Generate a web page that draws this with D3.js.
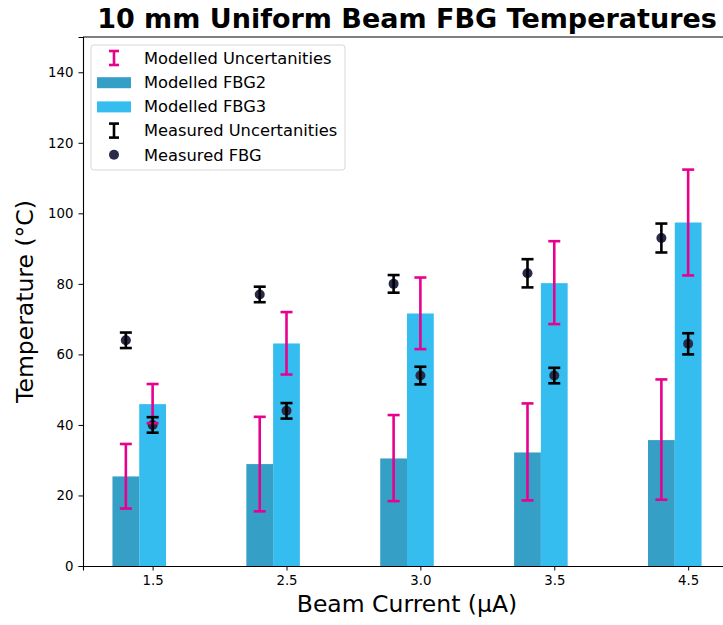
<!DOCTYPE html>
<html>
<head>
<meta charset="utf-8">
<script src="https://cdn.jsdelivr.net/npm/d3@7"></script>
<style>
  body { margin: 0; background: #fff; }
  text { font-family: "DejaVu Sans", sans-serif; }
</style>
</head>
<body>
<svg id="chart" width="723" height="625"></svg>
<script>
// Beam current categories
const currents = ["1.5", "2.5", "3.0", "3.5", "4.5"];

// Modelled temperatures (bars) and their uncertainty ranges
const modelledFBG2 = [25.4, 28.9, 30.5, 32.2, 35.7];
const modelledFBG3 = [45.9, 63.1, 71.6, 80.2, 97.4];
const modelledFBG2Low = [16.3, 15.5, 18.4, 18.6, 18.8];
const modelledFBG2High = [34.6, 42.3, 42.8, 46.1, 52.9];
const modelledFBG3Low = [40.5, 54.3, 61.5, 68.6, 82.4];
const modelledFBG3High = [51.6, 72.0, 81.8, 92.1, 112.4];

// Measured FBG temperatures with uncertainty (+/-)
const measuredA = [64.0, 77.0, 80.0, 83.0, 93.0];
const measuredAErr = [2.2, 2.2, 2.5, 4.0, 4.1];
const measuredB = [40.0, 44.0, 54.0, 54.0, 63.0];
const measuredBErr = [2.2, 2.2, 2.5, 2.2, 3.0];

const yTicks = [0, 20, 40, 60, 80, 100, 120, 140];

const svg = d3.select("#chart");
const margin = {left: 83, top: 37, bottom: 59};
const width = 731 - margin.left;
const height = 625 - margin.top - margin.bottom;

const colFBG2 = "#369fc6";
const colFBG3 = "#36bdf0";
const colPink = "#e8008e";
const colDot = "#2a2a4a";

// numeric x positions like matplotlib: categories at 0..4
let x = d3.scaleLinear().domain([-0.52, 4.32]).range([0, width]);
let y = d3.scaleLinear().domain([0, 150]).range([height, 0]);
const barW = 0.2;

let g = svg.append("g").attr("transform", `translate(${margin.left},${margin.top})`);

// bars
g.selectAll("rect.fbg2").data(modelledFBG2).enter().append("rect")
  .attr("class", "fbg2")
  .attr("x", (d, i) => x(i - 0.3))
  .attr("width", x(barW) - x(0))
  .attr("y", d => y(d))
  .attr("height", d => y(0) - y(d))
  .attr("fill", colFBG2);

g.selectAll("rect.fbg3").data(modelledFBG3).enter().append("rect")
  .attr("class", "fbg3")
  .attr("x", (d, i) => x(i - 0.1))
  .attr("width", x(barW) - x(0))
  .attr("y", d => y(d))
  .attr("height", d => y(0) - y(d))
  .attr("fill", colFBG3);

// measured dots
function dots(vals, off) {
  g.append("g").selectAll("circle").data(vals).enter().append("circle")
    .attr("cx", (d, i) => x(i + off))
    .attr("cy", d => y(d))
    .attr("r", 5)
    .attr("fill", colDot);
}
dots(measuredA, -0.2);
dots(measuredB, 0);

// error bars
function errBars(lows, highs, off, color) {
  let eg = g.append("g").attr("stroke", color).attr("stroke-width", 2.6);
  lows.forEach((lo, i) => {
    let cx = x(i + off);
    let hi = highs[i];
    eg.append("line").attr("x1", cx).attr("x2", cx).attr("y1", y(lo)).attr("y2", y(hi));
    eg.append("line").attr("x1", cx - 6).attr("x2", cx + 6).attr("y1", y(lo)).attr("y2", y(lo));
    eg.append("line").attr("x1", cx - 6).attr("x2", cx + 6).attr("y1", y(hi)).attr("y2", y(hi));
  });
}
errBars(modelledFBG2Low, modelledFBG2High, -0.2, colPink);
errBars(modelledFBG3Low, modelledFBG3High, 0, colPink);
errBars(measuredA.map((d, i) => d - measuredAErr[i]), measuredA.map((d, i) => d + measuredAErr[i]), -0.2, "#000");
errBars(measuredB.map((d, i) => d - measuredBErr[i]), measuredB.map((d, i) => d + measuredBErr[i]), 0, "#000");

// axes
let xAxis = d3.axisBottom(x).tickValues(d3.range(currents.length))
  .tickFormat(i => currents[i]).tickSizeOuter(0).tickSize(4.5).tickPadding(5);
let gx = g.append("g").attr("transform", `translate(0,${height})`).call(xAxis);

let yAxis = d3.axisLeft(y).tickValues(yTicks).tickSizeOuter(0).tickSize(4.5).tickPadding(5);
let gy = g.append("g").call(yAxis);

[gx, gy].forEach(a => {
  a.selectAll("text").attr("font-size", "13.3px").attr("fill", "#000")
    .style("font-family", "DejaVu Sans, sans-serif");
  a.selectAll("line").attr("stroke", "#000").attr("stroke-width", 1);
  a.select(".domain").attr("stroke", "#000").attr("stroke-width", 1.1);
});

// top spine
g.append("line").attr("x1", 0).attr("x2", width).attr("y1", 0).attr("y2", 0)
  .attr("stroke", "#000").attr("stroke-width", 1.1);

// titles
svg.append("text").attr("x", margin.left + width / 2).attr("y", 28)
  .attr("text-anchor", "middle").attr("font-size", "27px").attr("font-weight", "bold")
  .text("10 mm Uniform Beam FBG Temperatures");

svg.append("text").attr("x", margin.left + width / 2).attr("y", 612)
  .attr("text-anchor", "middle").attr("font-size", "23.5px")
  .text("Beam Current (µA)");

svg.append("text").attr("transform", `translate(33,${margin.top + height / 2}) rotate(-90)`)
  .attr("text-anchor", "middle").attr("font-size", "23.5px")
  .text("Temperature (°C)");

// legend
let lg = svg.append("g").attr("transform", "translate(91,45)");
lg.append("rect").attr("width", 254).attr("height", 125).attr("rx", 3)
  .attr("fill", "#fff").attr("fill-opacity", 0.8).attr("stroke", "#d6d6d6");

const legendItems = [
  {label: "Modelled Uncertanities", type: "err", color: colPink},
  {label: "Modelled FBG2", type: "bar", color: colFBG2},
  {label: "Modelled FBG3", type: "bar", color: colFBG3},
  {label: "Measured Uncertanities", type: "err", color: "#000"},
  {label: "Measured FBG", type: "dot", color: colDot}
];

legendItems.forEach((it, i) => {
  let cy = 13 + i * 24.2;
  let row = lg.append("g").attr("transform", `translate(0,${cy})`);
  if (it.type === "err") {
    let eg = row.append("g").attr("stroke", it.color).attr("stroke-width", 2.6);
    eg.append("line").attr("x1", 23).attr("x2", 23).attr("y1", -7).attr("y2", 7);
    eg.append("line").attr("x1", 18).attr("x2", 28).attr("y1", -7).attr("y2", -7);
    eg.append("line").attr("x1", 18).attr("x2", 28).attr("y1", 7).attr("y2", 7);
  } else if (it.type === "bar") {
    row.append("rect").attr("x", 6).attr("y", -5).attr("width", 34).attr("height", 11).attr("fill", it.color);
  } else {
    row.append("circle").attr("cx", 23).attr("cy", 0).attr("r", 5).attr("fill", it.color);
  }
  row.append("text").attr("x", 53).attr("y", 0).attr("dy", "0.36em")
    .attr("font-size", "16.3px").text(it.label);
});
</script>
</body>
</html>
